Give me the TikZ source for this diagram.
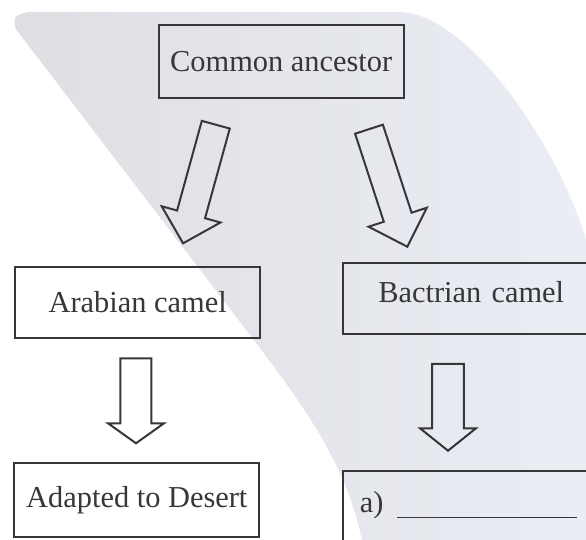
\documentclass[tikz,border=0pt]{standalone}
\usepackage{fontspec}
\setmainfont{Liberation Serif}
\usetikzlibrary{calc}

\definecolor{ink}{RGB}{55,55,58}
\definecolor{bandleft}{RGB}{222,223,227}
\definecolor{bandright}{RGB}{234,237,244}

\tikzset{
  box/.style={draw=ink, line width=1pt, text=ink, minimum width=122.5pt, inner sep=0pt},
  openbox/.style={box, anchor=north west, minimum width=134pt, align=left, inner ysep=0pt},
  hollow/.style={draw=ink, line width=1pt, line join=miter}
}

% hollow block arrow: tail, tip, half shaft, half head, head length
\newcommand{\blockarrow}[5]{%
  \coordinate (hb) at ($(#2)!#5!(#1)$);
  \draw[hollow] ($(#1)!#3!90:(#2)$) -- ($(hb)!#3!90:(#2)$) -- ($(hb)!#4!90:(#2)$)
    -- (#2) -- ($(hb)!#4!-90:(#2)$) -- ($(hb)!#3!-90:(#2)$) -- ($(#1)!#3!-90:(#2)$) -- cycle;
}

\begin{document}
\begin{tikzpicture}[x=.5pt, y=-.5pt, font=\fontsize{15.2}{18}\selectfont]
   \useasboundingbox (0,0) rectangle (586,540);
   \shade[left color=bandleft, right color=bandright]
      (15,28) .. controls (14,16) .. (28,12) -- (400,12)
      .. controls (470,14) and (560,150) .. (586,240)
      -- (586,540) -- (362,540) .. controls (345,460) and (300,400) .. (240,322) -- cycle;

   \node[box, minimum height=36.65pt] (anc) at (281.2,61.7) {Common ancestor};
   \node[box, minimum height=35.8pt] (arab) at (137.7,302.5) {Arabian camel};
   \node[box, minimum height=37pt] (adapt) at (136.8,499.7) {Adapted to Desert};
   \node[openbox, text width=98.6pt, inner xsep=17.7pt, text height=20pt, text depth=15.8pt] (bact) at (342,261.7) {Bactrian camel};
   \node[openbox, text width=117.5pt, inner xsep=8.25pt, text height=21pt, text depth=16pt] (blank) at (342.5,470)
      {a)\hspace{6.8pt}\rule[-2.5pt]{90pt}{.6pt}};

   \coordinate (s1) at (215.8,124.7);
   \coordinate (t1) at (183.1,243.3);
   \coordinate (s2) at (369,129.2);
   \coordinate (t2) at (407.3,246.7);
   \coordinate (s3) at (136,358.3);
   \coordinate (t3) at (136,443.3);
   \coordinate (s4) at (448,364);
   \coordinate (t4) at (448,450.7);

   \blockarrow{s1}{t1}{7.25pt}{15.25pt}{15pt}
   \blockarrow{s2}{t2}{7.3pt}{15.3pt}{15.5pt}
   \blockarrow{s3}{t3}{7.75pt}{14pt}{10pt}
   \blockarrow{s4}{t4}{7.9pt}{14pt}{11.2pt}
\end{tikzpicture}
\end{document}
